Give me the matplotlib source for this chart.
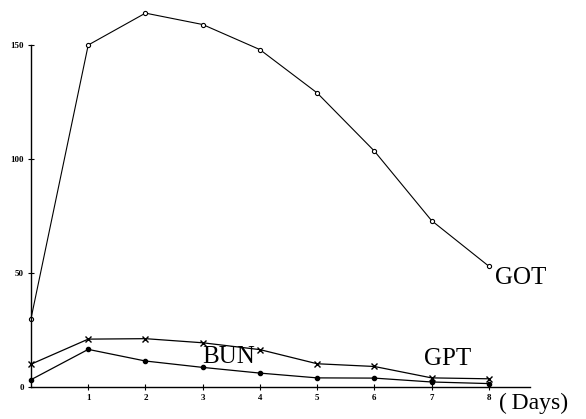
import matplotlib
matplotlib.use("Agg")
import matplotlib.pyplot as plt

# values
days = [0, 1, 2, 3, 4, 5, 6, 7, 8]
got = [30, 150, 164, 159, 148, 129, 103.5, 73, 53]
gpt = [10, 21, 21.2, 19.4, 16.4, 10.2, 9, 4, 3.6]
bun = [3.2, 16.5, 11.4, 8.6, 6.1, 4, 3.9, 2.2, 1.5]
x_ticks = [1, 2, 3, 4, 5, 6, 7, 8]
y_ticks = [0, 50, 100, 150]

plt.rcParams['font.family'] = ['Liberation Serif', 'DejaVu Serif']

fig = plt.figure(figsize=(5.86, 4.19), dpi=100)
ax = fig.add_axes([31 / 586, 32 / 419, 499 / 586, 383 / 419])

ax.plot(days, got, color='black', lw=0.8, marker='o', markersize=3,
        markerfacecolor='white', markeredgewidth=0.8, clip_on=False)
ax.plot(days, gpt, color='black', lw=0.9, marker='x', markersize=5,
        markeredgewidth=1.0, clip_on=False)
ax.plot(days, bun, color='black', lw=0.9, marker='o', markersize=3,
        clip_on=False)

ax.set_xlim(0, 8.72)
ax.set_ylim(0, 168)
ax.spines['top'].set_visible(False)
ax.spines['right'].set_visible(False)
ax.spines['left'].set_bounds(0, 150)
ax.spines['left'].set_linewidth(1.0)
ax.spines['bottom'].set_linewidth(1.0)

ax.set_xticks(x_ticks)
ax.set_xticklabels([str(d) for d in x_ticks], fontsize=6.5, fontweight='bold')
ax.set_yticks(y_ticks)
ax.set_yticklabels([str(v) for v in y_ticks], fontsize=6.5, fontweight='bold')
ax.tick_params(direction='inout', length=4, width=0.8, pad=3)

ax.text(8.18, -7, '(\u2009Days)', fontsize=17, ha='left', va='center')
ax.text(8.11, 48, 'GOT', fontsize=18, ha='left', va='center')
ax.text(6.87, 12.5, 'GPT', fontsize=18, ha='left', va='center')
ax.text(3.0, 13.3, 'BUN', fontsize=18, ha='left', va='center')

fig.savefig('out.png', dpi=100)
